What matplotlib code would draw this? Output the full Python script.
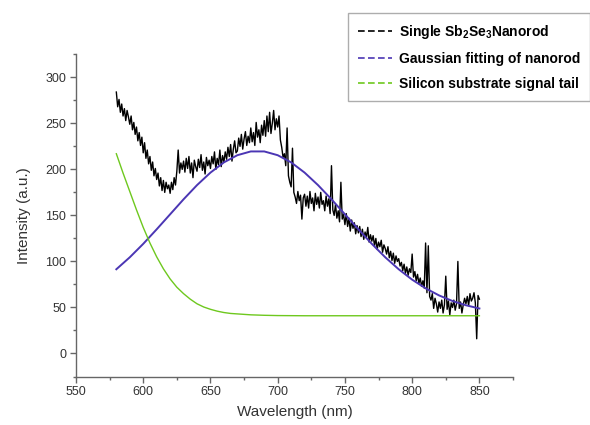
import matplotlib
matplotlib.use('Agg')
import matplotlib.pyplot as plt
from matplotlib.lines import Line2D
from matplotlib.ticker import MultipleLocator

plt.rcParams['font.family'] = ['Liberation Sans', 'DejaVu Sans']
plt.rcParams['mathtext.fontset'] = 'custom'
plt.rcParams['mathtext.rm'] = 'Liberation Sans'
plt.rcParams['mathtext.bf'] = 'Liberation Sans:bold'

# Measured spectrum of the single nanorod, 1 nm steps from 580 to 850 nm
spec_start = 580
spec_values = [
    284, 268, 276, 262, 271, 258, 266, 253, 264, 257,   # 580
    249, 258, 243, 251, 238, 246, 231, 240, 226, 235,   # 590
    218, 229, 212, 221, 206, 214, 199, 208, 193, 201,   # 600
    189, 196, 182, 191, 177, 188, 175, 186, 179, 183,   # 610
    174, 186, 178, 191, 183, 198, 221, 196, 207, 200,   # 620
    209, 197, 212, 201, 214, 196, 207, 191, 210, 203,   # 630
    198, 211, 202, 216, 199, 208, 195, 213, 204, 210,   # 640
    201, 214, 206, 219, 200, 212, 205, 221, 203, 215,   # 650
    208, 219, 211, 224, 214, 227, 209, 222, 231, 218,   # 660
    220, 234, 225, 238, 222, 233, 241, 226, 236, 229,   # 670
    245, 230, 240, 226, 251, 235, 243, 229, 248, 237,   # 680
    253, 236, 258, 241, 262, 239, 250, 264, 243, 255,   # 690
    246, 258, 232, 224, 213, 217, 204, 245, 193, 186,   # 700
    181, 223, 175, 170, 163, 176, 166, 172, 146, 169,   # 710
    173, 160, 171, 158, 176, 163, 169, 155, 174, 162,   # 720
    170, 158, 175, 162, 166, 155, 171, 160, 168, 152,   # 730
    204, 156, 150, 162, 147, 155, 143, 186, 146, 151,   # 740
    140, 152, 138, 147, 133, 145, 136, 142, 130, 139,   # 750
    131, 138, 127, 135, 124, 132, 126, 137, 121, 129,   # 760
    122, 128, 117, 125, 113, 121, 116, 123, 110, 118,   # 770
    114, 108, 116, 104, 111, 101, 109, 98, 106, 100,    # 780
    103, 95, 99, 90, 97, 87, 94, 85, 92, 88,            # 790
    108, 83, 89, 79, 86, 76, 82, 73, 79, 71,            # 800
    120, 66, 117, 62, 58, 65, 49, 60, 54, 45,           # 810
    56, 49, 58, 44, 53, 84, 48, 57, 42, 55,             # 820
    50, 58, 47, 54, 100, 49, 56, 44, 53, 60,            # 830
    54, 62, 52, 65, 57, 60, 66, 55, 16, 63,             # 840
    59,                                                 # 850
]
spec_nm = list(range(spec_start, spec_start + len(spec_values)))

# Gaussian fit of the nanorod emission
fit_nm = [580, 590, 600, 610, 620, 630, 640, 650, 660, 670, 680, 690, 700, 710,
          720, 730, 740, 750, 760, 770, 780, 790, 800, 810, 820, 830, 840, 850]
fit_values = [91.5, 104.5, 119.1, 134.9, 151.2, 167.5, 182.9, 196.5, 207.6, 215.4,
              219.5, 219.5, 215.4, 207.6, 196.5, 182.9, 167.5, 151.2, 134.9, 119.1,
              104.5, 91.5, 80.2, 70.8, 63.1, 57.0, 52.4, 48.9]

# Silicon substrate tail
tail_nm = [580, 585, 590, 595, 600, 605, 610, 615, 620, 625, 630, 635, 640, 645,
           650, 655, 660, 665, 670, 680, 690, 700, 720, 750, 800, 850]
tail_values = [217, 196, 176, 156, 137, 120, 105, 92, 81, 72, 65, 59, 54, 50.5,
               48, 46, 44.5, 43.5, 43, 42, 41.5, 41.2, 41, 41, 41, 41]

labels = ['Single Sb$_{\\mathbf{2}}$Se$_{\\mathbf{3}}$Nanorod',
          'Gaussian fitting of nanorod',
          'Silicon substrate signal tail']
colors = ['black', '#4b36b4', '#6ec81e']

fig = plt.figure(figsize=(5.9, 4.25), dpi=100)
ax = fig.add_axes([0.1288, 0.1141, 0.7407, 0.7581])

ax.plot(spec_nm, spec_values, color=colors[0], linewidth=1.0)
ax.plot(fit_nm, fit_values, color=colors[1], linewidth=1.4)
ax.plot(tail_nm, tail_values, color=colors[2], linewidth=1.0)

ax.set_xlim(550, 875)
ax.set_ylim(-25, 325)
ax.xaxis.set_major_locator(MultipleLocator(50))
ax.xaxis.set_minor_locator(MultipleLocator(25))
ax.yaxis.set_major_locator(MultipleLocator(50))
ax.yaxis.set_minor_locator(MultipleLocator(25))

# Only left/bottom axis lines, gray, outward ticks
for side in ['top', 'right']:
    ax.spines[side].set_visible(False)
for side in ['left', 'bottom']:
    ax.spines[side].set_color('#666666')
    ax.spines[side].set_linewidth(1.0)
ax.tick_params(which='major', direction='out', length=4, width=1.0,
               color='#666666', labelsize=9, labelcolor='#333333', pad=3)
ax.tick_params(which='minor', direction='out', length=2.5, width=1.0, color='#666666')

ax.set_xlabel('Wavelength (nm)', fontsize=11, color='#333333', labelpad=5)
ax.set_ylabel('Intensity (a.u.)', fontsize=11, color='#333333', labelpad=10)

handles = [Line2D([], [], color=c, linewidth=1.2, linestyle=(0, (4, 2))) for c in colors]
leg = fig.legend(handles, labels, loc='upper left', bbox_to_anchor=(348 / 590, 1 - 13 / 425),
                 prop={'weight': 'bold', 'size': 10}, frameon=True, fancybox=False,
                 edgecolor='#999999', borderpad=0.7, handlelength=2.5,
                 handletextpad=0.5, labelspacing=0.8, borderaxespad=0)
leg.get_frame().set_linewidth(1.0)

fig.savefig('out.png', dpi=100)
